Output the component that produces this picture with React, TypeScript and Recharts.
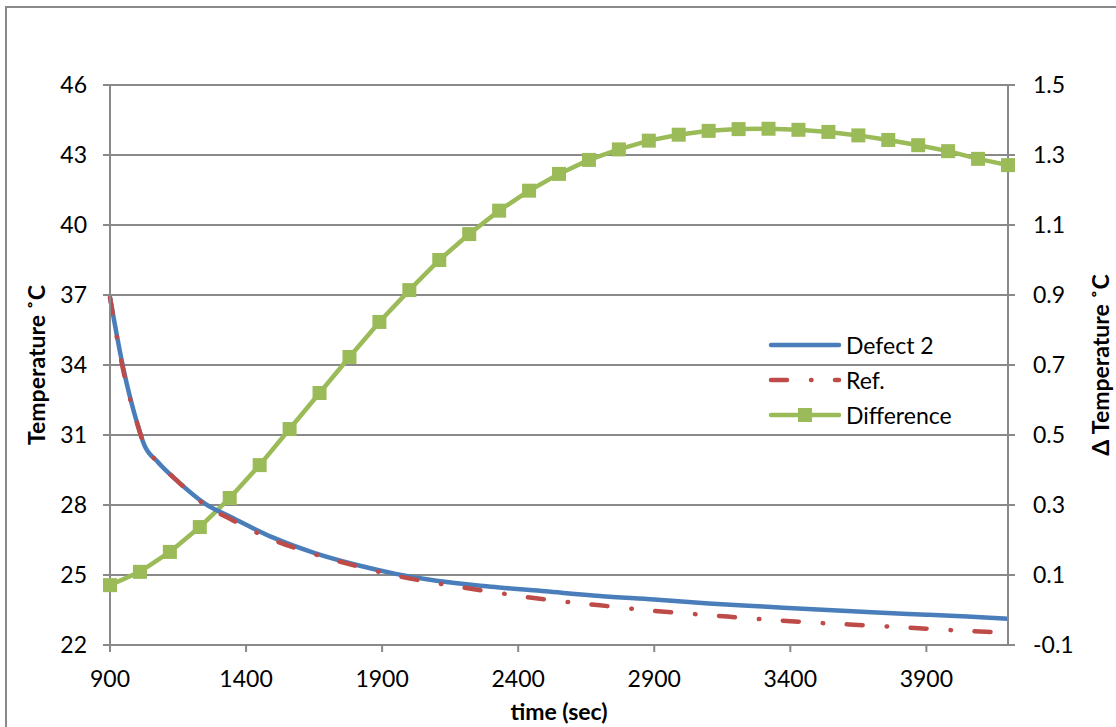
import {
  CartesianGrid,
  Legend,
  Line,
  LineChart,
  XAxis,
  YAxis,
} from "recharts";

// Defect 2 / Ref. curves (temperature, left axis)
const curveTimes = [
  900, 950, 1000, 1025, 1075, 1150, 1250, 1350, 1500, 1650, 1800, 1950, 2100,
  2300, 2500, 2700, 2900, 3100, 3300, 3500, 3700, 3900, 4050, 4200,
];
const defect2 = [
  36.9, 33.8, 31.5, 30.6, 29.85, 29.0, 28.05, 27.45, 26.6, 25.95, 25.45, 25.05,
  24.75, 24.5, 24.3, 24.1, 23.95, 23.78, 23.65, 23.52, 23.4, 23.3, 23.22, 23.13,
];
const refTemp = [
  36.9, 33.7, 31.5, 30.6, 29.85, 29.0, 28.0, 27.35, 26.5, 25.9, 25.4, 24.97,
  24.65, 24.28, 23.95, 23.7, 23.46, 23.28, 23.1, 22.95, 22.83, 22.7, 22.6, 22.54,
];

// Difference (right axis)
const diffTimes = [
  900, 1010, 1120, 1230, 1340, 1450, 1560, 1670, 1780, 1890, 2000, 2110, 2220,
  2330, 2440, 2550, 2660, 2770, 2880, 2990, 3100, 3210, 3320, 3430, 3540, 3650,
  3760, 3870, 3980, 4090, 4200,
];
const difference = [
  0.071, 0.109, 0.166, 0.237, 0.32, 0.414, 0.517, 0.62, 0.723, 0.823, 0.914,
  1.0, 1.074, 1.141, 1.198, 1.246, 1.286, 1.316, 1.341, 1.358, 1.369, 1.374,
  1.375, 1.372, 1.366, 1.356, 1.343, 1.328, 1.311, 1.289, 1.271,
];

const xTicks = [900, 1400, 1900, 2400, 2900, 3400, 3900];
const leftTicks = [22, 25, 28, 31, 34, 37, 40, 43, 46];
const rightTicks = [-0.1, 0.1, 0.3, 0.5, 0.7, 0.9, 1.1, 1.3, 1.5];

const defectRows = curveTimes.map((t, i) => ({ t, v: defect2[i] }));
const refRows = curveTimes.map((t, i) => ({ t, v: refTemp[i] }));
const diffRows = diffTimes.map((t, i) => ({ t, v: difference[i] }));

const BLUE = "#4A7EBB";
const RED = "#BE4B48";
const GREEN = "#9BBB59";
const GRAY = "#898989";
const FONT = "Lato, 'Open Sans', sans-serif";
const REF_DASH = "16 24 0.5 23.5";

const tickStyle = { fill: "#000", fontSize: 23, fontFamily: FONT };

function Square(props: any) {
  const { cx, cy, index } = props;
  if (cx == null || cy == null) return <g key={`sq-${index}`} />;
  return (
    <rect key={`sq-${index}`} x={cx - 7} y={cy - 7} width={14} height={14} fill={GREEN} />
  );
}

function LeftTitle(props: any) {
  const vb = props.viewBox || { x: 0, y: 0, width: 0, height: 0 };
  const cx = vb.x + 36;
  const cy = vb.y + vb.height / 2;
  return (
    <text x={cx} y={cy} transform={`rotate(-90 ${cx} ${cy})`} textAnchor="middle"
      dominantBaseline="central" fontFamily={FONT} fontWeight={700} fontSize={23} fill="#000">
      Temperature ˚C
    </text>
  );
}

function RightTitle(props: any) {
  const vb = props.viewBox || { x: 0, y: 0, width: 0, height: 0 };
  const cx = vb.x + 92;
  const cy = vb.y + vb.height / 2;
  return (
    <text x={cx} y={cy} transform={`rotate(-90 ${cx} ${cy})`} textAnchor="middle"
      dominantBaseline="central" fontFamily={FONT} fontWeight={700} fontSize={23} fill="#000">
      Δ Temperature ˚C
    </text>
  );
}

function BottomTitle(props: any) {
  const vb = props.viewBox || { x: 0, y: 0, width: 0, height: 0 };
  return (
    <text x={vb.x + vb.width / 2} y={vb.y + 66} textAnchor="middle"
      dominantBaseline="central" fontFamily={FONT} fontWeight={700} fontSize={23} fill="#000">
      time (sec)
    </text>
  );
}

function LegendBox() {
  const rows = [
    { name: "Defect 2", kind: "defect" },
    { name: "Ref.", kind: "ref" },
    { name: "Difference", kind: "diff" },
  ];
  return (
    <div style={{ fontFamily: FONT, fontSize: 23, color: "#000" }}>
      {rows.map((r) => (
        <div key={r.name} style={{ display: "flex", alignItems: "center", height: 35 }}>
          <svg width={80} height={20} style={{ display: "block" }}>
            {r.kind === "defect" && (
              <line x1={5} y1={10} x2={73} y2={10} stroke={BLUE} strokeWidth={4.5} strokeLinecap="round" />
            )}
            {r.kind === "ref" && (
              <line x1={5} y1={10} x2={73} y2={10} stroke={RED} strokeWidth={4.5}
                strokeLinecap="round" strokeDasharray="16 24 0.5 23.5" />
            )}
            {r.kind === "diff" && (
              <>
                <line x1={5} y1={10} x2={73} y2={10} stroke={GREEN} strokeWidth={4.5} strokeLinecap="round" />
                <rect x={32} y={3} width={14} height={14} fill={GREEN} />
              </>
            )}
          </svg>
          <span>{r.name}</span>
        </div>
      ))}
    </div>
  );
}

export default function App() {
  return (
    <div style={{ position: "absolute", left: 0, top: 0, width: 1116, height: 727, overflow: "hidden", background: "#fff" }}>
      <div style={{ position: "absolute", left: 5, top: 6, width: 1200, height: 800, border: `2px solid ${GRAY}` }} />
      <div style={{ position: "absolute", left: 0, top: 0 }}>
        <LineChart width={1116} height={727} margin={{ top: 85, right: 0, bottom: 0, left: 0 }}>
          <CartesianGrid yAxisId="temp" vertical={false} stroke={GRAY} strokeWidth={2} />
          <XAxis
            type="number"
            dataKey="t"
            domain={[900, 4200]}
            ticks={xTicks}
            allowDuplicatedCategory={false}
            height={82}
            tickSize={7}
            tickMargin={19}
            stroke={GRAY}
            strokeWidth={2}
            tick={tickStyle}
            label={<BottomTitle />}
          />
          <YAxis
            yAxisId="temp"
            orientation="left"
            domain={[22, 46]}
            ticks={leftTicks}
            width={110}
            tickSize={7}
            tickMargin={16}
            stroke={GRAY}
            strokeWidth={2}
            tick={tickStyle}
            label={<LeftTitle />}
          />
          <YAxis
            yAxisId="diff"
            orientation="right"
            domain={[-0.1, 1.5]}
            ticks={rightTicks}
            width={108}
            tickSize={7}
            tickMargin={18}
            stroke={GRAY}
            strokeWidth={2}
            tick={tickStyle}
            tickFormatter={(v: number) => v.toFixed(1)}
            label={<RightTitle />}
          />
          <Legend
            layout="horizontal"
            verticalAlign="middle"
            align="center"
            content={<LegendBox />}
            wrapperStyle={{ position: "absolute", left: 766, top: 327, width: 240 }}
          />
          <Line
            yAxisId="diff"
            data={diffRows}
            dataKey="v"
            name="Difference"
            stroke={GREEN}
            strokeWidth={4.5}
            dot={Square}
            activeDot={false}
            isAnimationActive={false}
            type="linear"
          />
          <Line
            yAxisId="temp"
            data={defectRows}
            dataKey="v"
            name="Defect 2"
            stroke={BLUE}
            strokeWidth={4.5}
            dot={false}
            activeDot={false}
            isAnimationActive={false}
            type="monotone"
          />
          <Line
            yAxisId="temp"
            data={refRows}
            dataKey="v"
            name="Ref."
            stroke={RED}
            strokeWidth={4.5}
            strokeLinecap="round"
            strokeDasharray={REF_DASH}
            dot={false}
            activeDot={false}
            isAnimationActive={false}
            type="monotone"
          />
        </LineChart>
      </div>
    </div>
  );
}
